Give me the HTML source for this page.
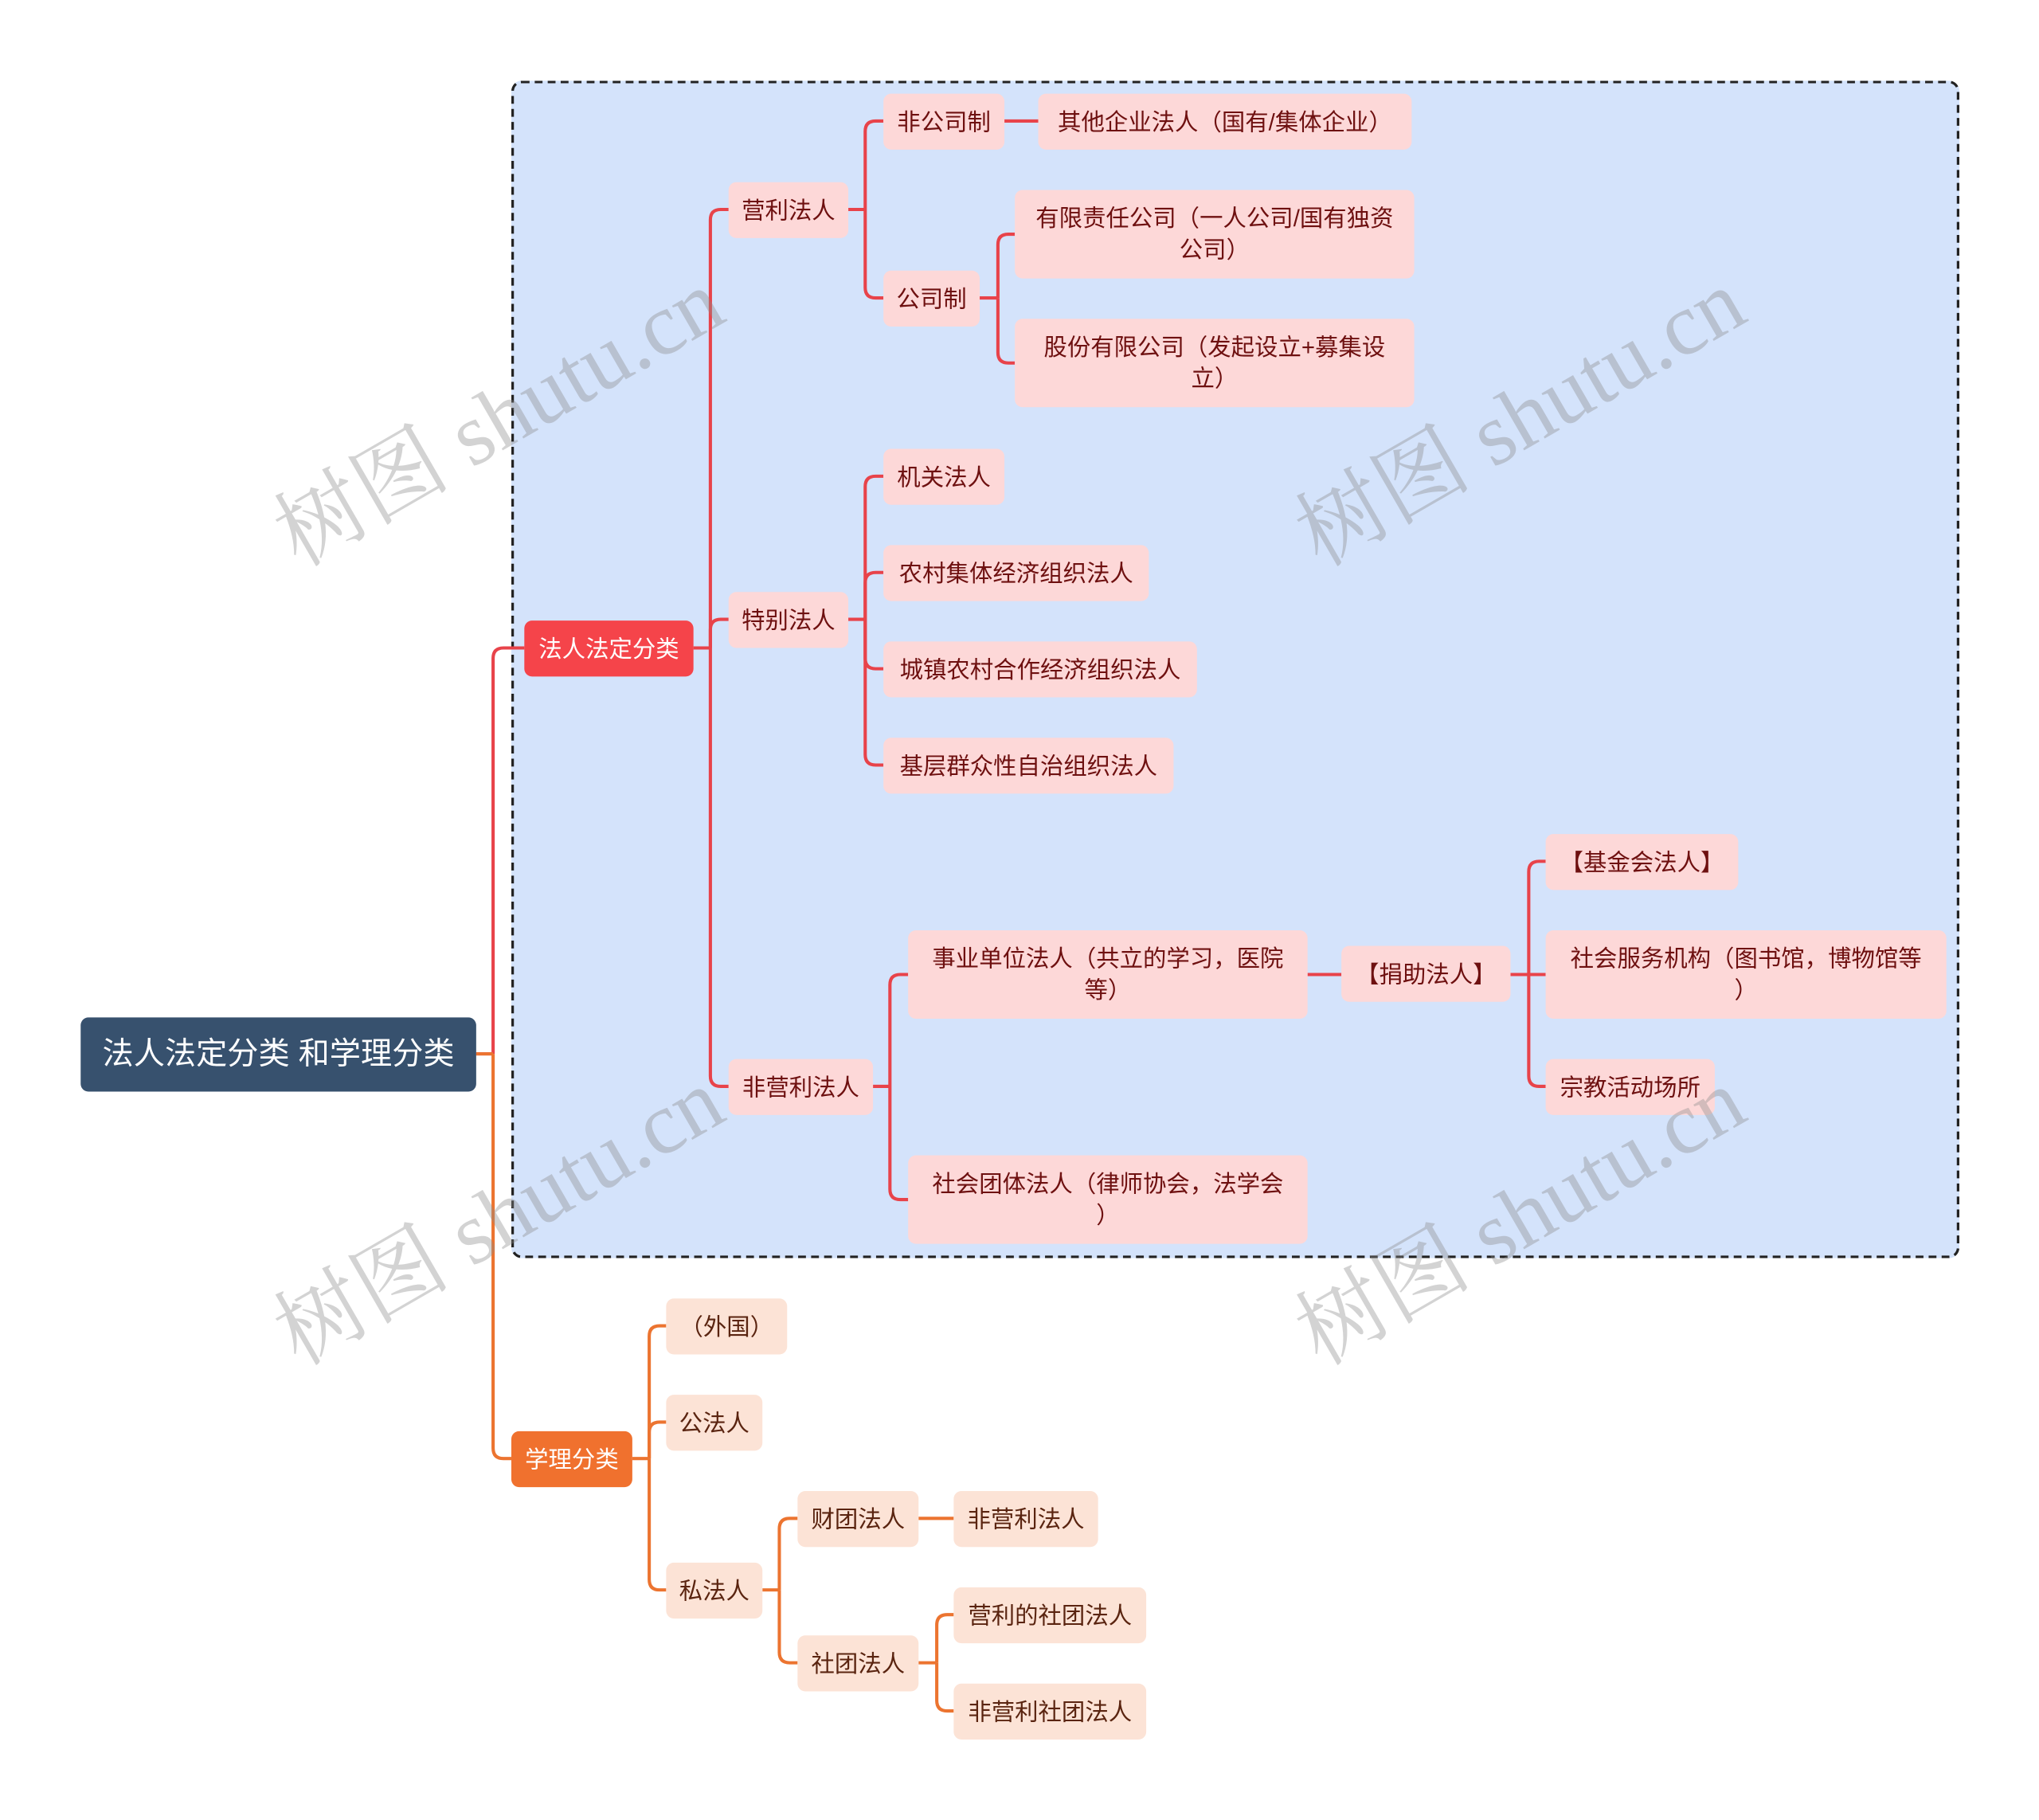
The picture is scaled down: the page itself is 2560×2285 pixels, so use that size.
<!DOCTYPE html>
<html><head><meta charset="utf-8">
<style>
html,body{margin:0;padding:0;background:#fff;overflow:hidden}
#wrap{width:2560px;height:2285px;position:relative;overflow:hidden}
#s{position:absolute;left:0;top:0;width:1570px;height:1400px;transform:scale(1.6335);transform-origin:0 0;font-family:"Liberation Sans","Noto Sans CJK SC",sans-serif}
.n{position:absolute;box-sizing:border-box;border-radius:6px;display:flex;align-items:center;justify-content:center;text-align:center;font-size:18px;line-height:24px;white-space:pre-line}
.r{background:#fdd8d8;color:#6e1010}
.o{background:#fce3d6;color:#5a2410}
.wm{position:absolute;font-family:"Liberation Serif","Noto Serif CJK SC",serif;font-size:68px;color:rgba(140,140,140,0.38);transform:rotate(-30deg);white-space:nowrap;transform-origin:center}
</style></head><body><div id="wrap"><div id="s">
<div style="position:absolute;left:393px;top:62px;width:1113px;height:905px;box-sizing:border-box;border:2px dashed #222;border-radius:8px;background:#d4e3fb"></div>
<svg id="lines" width="1570" height="1400" style="position:absolute;left:0;top:0" fill="none" stroke-width="2.5"></svg>

<div class="n" style="left:62px;top:782px;width:304px;height:57px;background:#37516e;color:#fff;font-size:24px">法人法定分类 和学理分类</div>
<div class="n" style="left:403px;top:477px;width:130px;height:43px;background:#f5444a;color:#fff">法人法定分类</div>
<div class="n" style="left:393px;top:1100px;width:93px;height:43px;background:#f0712e;color:#fff">学理分类</div>

<div class="n r" style="left:560px;top:140px;width:92px;height:43px">营利法人</div>
<div class="n r" style="left:560px;top:455px;width:92px;height:43px">特别法人</div>
<div class="n r" style="left:560px;top:814px;width:111px;height:43px">非营利法人</div>
<div class="n r" style="left:679px;top:72px;width:93px;height:43px">非公司制</div>
<div class="n r" style="left:679px;top:208px;width:74px;height:43px">公司制</div>
<div class="n r" style="left:798px;top:72px;width:287px;height:43px">其他企业法人（国有/集体企业）</div>
<div class="n r" style="left:780px;top:146px;width:307px;height:68px">有限责任公司（一人公司/国有独资
公司）</div>
<div class="n r" style="left:780px;top:245px;width:307px;height:68px">股份有限公司（发起设立+募集设
立）</div>
<div class="n r" style="left:679px;top:345px;width:93px;height:43px">机关法人</div>
<div class="n r" style="left:679px;top:419px;width:204px;height:43px">农村集体经济组织法人</div>
<div class="n r" style="left:679px;top:493px;width:241px;height:43px">城镇农村合作经济组织法人</div>
<div class="n r" style="left:679px;top:567px;width:223px;height:43px">基层群众性自治组织法人</div>
<div class="n r" style="left:698px;top:715px;width:307px;height:68px">事业单位法人（共立的学习，医院
等）</div>
<div class="n r" style="left:698px;top:888px;width:307px;height:68px">社会团体法人（律师协会，法学会
）</div>
<div class="n r" style="left:1031px;top:727px;width:130px;height:43px">【捐助法人】</div>
<div class="n r" style="left:1188px;top:641px;width:148px;height:43px">【基金会法人】</div>
<div class="n r" style="left:1188px;top:715px;width:308px;height:68px">社会服务机构（图书馆，博物馆等
）</div>
<div class="n r" style="left:1188px;top:814px;width:130px;height:43px">宗教活动场所</div>

<div class="n o" style="left:512px;top:998px;width:93px;height:43px">（外国）</div>
<div class="n o" style="left:512px;top:1072px;width:74px;height:43px">公法人</div>
<div class="n o" style="left:512px;top:1201px;width:74px;height:43px">私法人</div>
<div class="n o" style="left:613px;top:1146px;width:93px;height:43px">财团法人</div>
<div class="n o" style="left:613px;top:1257px;width:93px;height:43px">社团法人</div>
<div class="n o" style="left:733px;top:1146px;width:111px;height:43px">非营利法人</div>
<div class="n o" style="left:733px;top:1220px;width:148px;height:43px">营利的社团法人</div>
<div class="n o" style="left:733px;top:1294px;width:148px;height:43px">非营利社团法人</div>

<div class="wm" style="left:190px;top:268px">树图 shutu.cn</div>
<div class="wm" style="left:975px;top:268px">树图 shutu.cn</div>
<div class="wm" style="left:190px;top:882px">树图 shutu.cn</div>
<div class="wm" style="left:975px;top:882px">树图 shutu.cn</div>
</div></div>
<script>
var svg=document.getElementById('lines');
function p(d,c){var e=document.createElementNS('http://www.w3.org/2000/svg','path');e.setAttribute('d',d);e.setAttribute('stroke',c);svg.appendChild(e);}
function br(px,py,tx,cx,ys,c){
 p('M'+px+' '+py+'H'+tx,c);
 ys.forEach(function(y){
  var r=Math.min(8,Math.abs(y-py));
  if(Math.abs(y-py)<1){p('M'+tx+' '+py+'H'+cx,c);return;}
  var s=y>py?1:-1;
  p('M'+tx+' '+py+'V'+(y-s*r)+'Q'+tx+' '+y+' '+(tx+r)+' '+y+'H'+cx,c);
 });
}
var R='#e8434a',O='#ec7430';
br(366,810,379,403,[498],R);
br(366,810,379,393,[1121],O);
br(533,498,546,560,[161,476,835],R);
br(652,161,665,679,[93,229],R);
br(753,229,767,780,[180,279],R);
p('M772 93H798',R);
br(652,476,665,679,[366,440,514,588],R);
br(671,835,684,698,[749,922],R);
p('M1005 749H1031',R);
br(1161,749,1175,1188,[662,749,835],R);
br(486,1121,499,512,[1019,1093,1222],O);
br(586,1222,599,613,[1167,1278],O);
p('M706 1167H733',O);
br(706,1278,720,733,[1241,1315],O);
</script>
</body></html>
